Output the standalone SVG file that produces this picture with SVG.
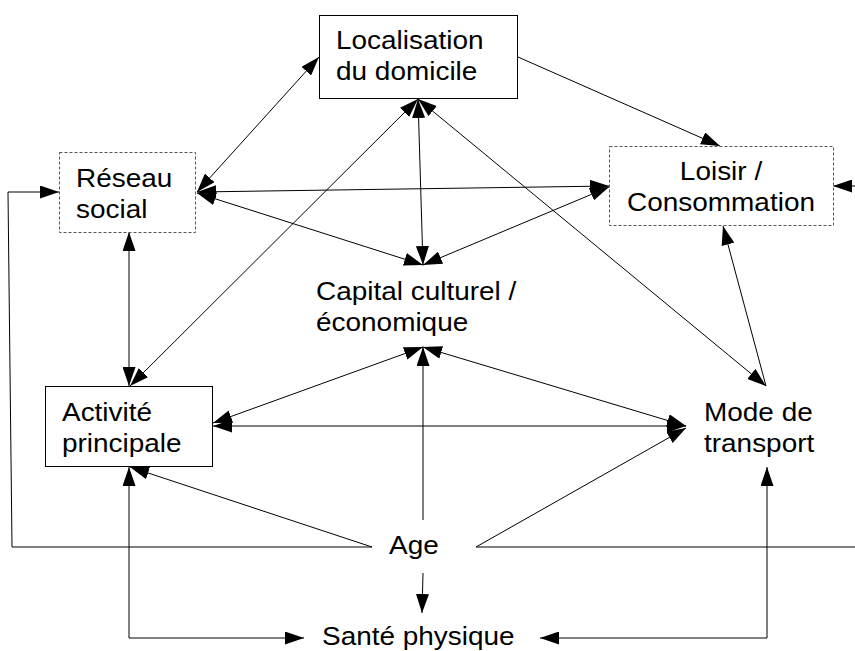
<svg xmlns="http://www.w3.org/2000/svg" width="855" height="651" viewBox="0 0 855 651">
<defs>
<marker id="ah" markerUnits="userSpaceOnUse" markerWidth="19" markerHeight="13" viewBox="0 0 19 13" refX="19" refY="6.5" orient="auto-start-reverse">
<path d="M0,0 L19,6.5 L0,13 z" fill="#000"/>
</marker>
</defs>
<style>
.box{fill:#fff;stroke:#000;stroke-width:1}
.dbox{fill:#fff;stroke:#555;stroke-width:1;stroke-dasharray:3,2}
.lbl{font-family:"Liberation Sans",Arial,sans-serif;font-size:26px;fill:#000}
.c{fill:none;stroke:#000;stroke-width:1}
.b{marker-start:url(#ah);marker-end:url(#ah)}
.e{marker-end:url(#ah)}
</style>
<rect width="855" height="651" fill="#fff"/>
<g id="connectors">
<path class="c b" d="M197,192 L319,57"/>
<path class="c b" d="M197,192 L609,186"/>
<path class="c b" d="M197,193 L423,265"/>
<path class="c b" d="M609,187 L423,265"/>
<path class="c b" d="M418,99 L423,265"/>
<path class="c e" d="M518,57 L720,146"/>
<path class="c b" d="M418,99 L130,386"/>
<path class="c b" d="M418,99 L766,386"/>
<path class="c e" d="M766,386 L723,226"/>
<path class="c b" d="M129,232 L129,386"/>
<path class="c b" d="M423,347 L213,423"/>
<path class="c b" d="M213,426 L686,426"/>
<path class="c b" d="M423,347 L686,426"/>
<path class="c e" d="M423,520 L423,347"/>
<path class="c e" d="M372,547 L130,467"/>
<path class="c e" d="M476,547 L686,428"/>
<path class="c e" d="M372,547 L12,547 L8,192 L59,192"/>
<path class="c e" d="M476,547 H857 V186 H833"/>
<path class="c e" d="M423,573 L422,613"/>
<path class="c b" d="M129,467 V638 H304"/>
<path class="c b" d="M540,638 H767 V467"/>
</g>
<g id="localisation">
<rect class="box" x="319.5" y="15.5" width="198" height="83"/>
<text class="lbl" transform="translate(336,49) scale(1.075,1)"><tspan x="0" y="0">Localisation</tspan><tspan x="0" y="31">du domicile</tspan></text>
</g>
<g id="reseau">
<rect class="dbox" x="59.5" y="152.5" width="136" height="80"/>
<text class="lbl" transform="translate(76,187) scale(1.075,1)"><tspan x="0" y="0">Réseau</tspan><tspan x="0" y="31">social</tspan></text>
</g>
<g id="loisir">
<rect class="dbox" x="609.5" y="146.5" width="224" height="79"/>
<text class="lbl" text-anchor="middle" transform="translate(721,180) scale(1.075,1)"><tspan x="0" y="0">Loisir /</tspan><tspan x="0" y="31">Consommation</tspan></text>
</g>
<g id="capital">
<text class="lbl" transform="translate(316,300) scale(1.075,1)"><tspan x="0" y="0">Capital culturel /</tspan><tspan x="0" y="31">économique</tspan></text>
</g>
<g id="activite">
<rect class="box" x="45.5" y="386.5" width="167" height="80"/>
<text class="lbl" transform="translate(62,421) scale(1.075,1)"><tspan x="0" y="0">Activité</tspan><tspan x="0" y="31">principale</tspan></text>
</g>
<g id="mode">
<text class="lbl" transform="translate(704,421) scale(1.075,1)"><tspan x="0" y="0">Mode de</tspan><tspan x="0" y="31">transport</tspan></text>
</g>
<g id="age">
<text class="lbl" transform="translate(389,554) scale(1.075,1)">Age</text>
</g>
<g id="sante">
<text class="lbl" transform="translate(322,645) scale(1.075,1)">Santé physique</text>
</g>
</svg>
